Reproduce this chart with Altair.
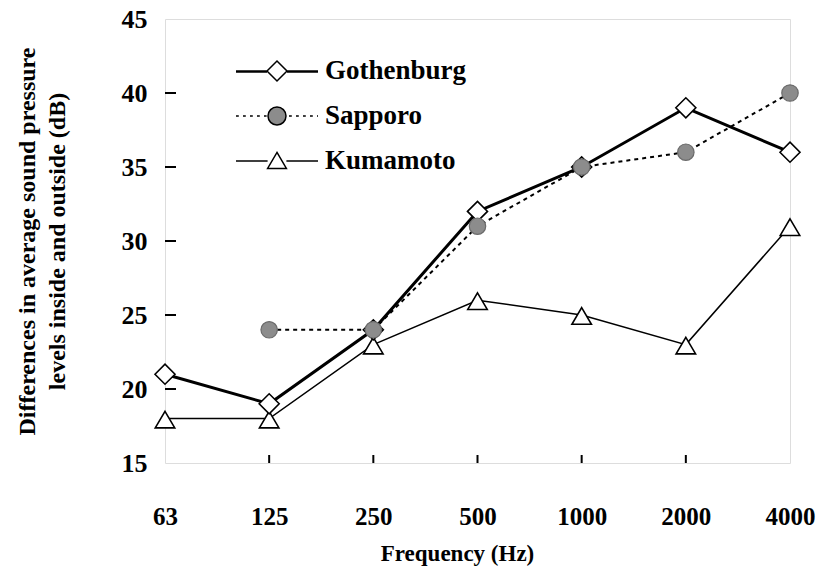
import altair as alt
import pandas as pd

# ---- data ----
freqs = ["63", "125", "250", "500", "1000", "2000", "4000"]
gothenburg = [21, 19, 24, 32, 35, 39, 36]
sapporo = [None, 24, 24, 31, 35, 36, 40]
kumamoto = [18, 18, 23, 26, 25, 23, 31]
series_names = ["Gothenburg", "Sapporo", "Kumamoto"]
y_tick_values = [15, 20, 25, 30, 35, 40, 45]
y_inner_ticks = [20, 25, 30, 35, 40]
x_inner_ticks = ["125", "250", "500", "1000", "2000"]

rows = []
for name, vals in zip(series_names, [gothenburg, sapporo, kumamoto]):
    for f, v in zip(freqs, vals):
        if v is not None:
            rows.append({"f": f, "v": v, "series": name})
df = pd.DataFrame(rows)
ytick_df = pd.DataFrame({"v": y_inner_ticks})
xtick_df = pd.DataFrame({"f": x_inner_ticks})

W, H = 625, 444
FONT = "Liberation Serif"

x_scale = alt.Scale(domain=freqs, type="point", padding=0)
y_scale = alt.Scale(domain=[15, 45], nice=False, zero=False)

x_enc = alt.X(
    "f:N", scale=x_scale, sort=freqs,
    axis=alt.Axis(
        title="Frequency (Hz)", labelAngle=0, labelFont=FONT, labelFontSize=25,
        labelFontWeight="bold", labelColor="black", labelPadding=41,
        labelBaseline="top", domain=False, ticks=False, tickSize=0, grid=False,
        titleFont=FONT, titleFontSize=23, titleFontWeight="bold", titleColor="black",
        titleX=292, titleY=90, titleAlign="center", titleBaseline="middle",
    ),
)
y_enc = alt.Y(
    "v:Q", scale=y_scale,
    axis=alt.Axis(
        title=["Differences in average sound pressure", "levels inside and outside (dB)"],
        values=y_tick_values, labelFont=FONT, labelFontSize=26, labelFontWeight="bold",
        labelColor="black", labelPadding=18, domain=False, ticks=False, tickSize=0,
        grid=False, titleFont=FONT, titleFontSize=24, titleFontWeight="bold",
        titleColor="black", titleAngle=-90, titleX=-150, titleY=H / 2,
        titleAlign="center", titleBaseline="top", titleLineHeight=30,
    ),
)

def series(name):
    return alt.Chart(df).transform_filter(alt.datum.series == name)

line_k = series("Kumamoto").mark_line(color="black", strokeWidth=1.5).encode(x=x_enc, y=y_enc)
line_s = series("Sapporo").mark_line(color="black", strokeWidth=2, strokeDash=[4, 4]).encode(x=x_enc, y=y_enc)
line_g = series("Gothenburg").mark_line(color="black", strokeWidth=3).encode(x=x_enc, y=y_enc)

tri_path = "M0,-0.75L1,0.95L-1,0.95Z"
pts_k = series("Kumamoto").mark_point(
    shape=tri_path, size=380, filled=True, fill="white", stroke="black", strokeWidth=1.6, opacity=1
).encode(x=x_enc, y=y_enc)
pts_g = series("Gothenburg").mark_point(
    shape="diamond", size=400, filled=True, fill="white", stroke="black", strokeWidth=1.6, opacity=1
).encode(x=x_enc, y=y_enc)
pts_s = series("Sapporo").mark_point(
    shape="circle", size=270, filled=True, fill="#8c8c8c", stroke="#6a6a6a", strokeWidth=1.2, opacity=1
).encode(x=x_enc, y=y_enc)

# inward ticks
yticks = alt.Chart(ytick_df).mark_rule(color="black", strokeWidth=2).encode(
    y=y_enc, x=alt.value(0), x2=alt.value(11)
)
xticks = alt.Chart(xtick_df).mark_rule(color="black", strokeWidth=2).encode(
    x=x_enc, y=alt.value(H), y2=alt.value(H - 8)
)

# legend symbols: line + marker paths (unit = 20 px, symbol size 1600)
def seg(a, b, y=0.0):
    return f"M{a:.3f},{y:.3f}L{b:.3f},{y:.3f}"

L = 2.05
d = 0.5
g_sym = seg(-L, -d) + seg(d, L) + seg(-L, -d, 0.045) + seg(d, L, 0.045) + \
    f"M{-d},0L0,{-d}L{d},0L0,{d}Z"
dash_parts = []
pos = -L
while pos < -0.52:
    dash_parts.append(seg(pos, min(pos + 0.14, -0.52)))
    pos += 0.35
pos = 0.6
while pos < L:
    dash_parts.append(seg(pos, min(pos + 0.14, L)))
    pos += 0.35
r = 0.45
s_sym = "".join(dash_parts) + f"M{r},0A{r},{r} 0 1,1 {-r},0A{r},{r} 0 1,1 {r},0Z"
t = 0.47
k_sym = seg(-L, -t) + seg(t, L) + f"M0,-0.43L{t},0.37L{-t},0.37Z"

leg = alt.Legend(
    title=None, orient="none", legendX=91, legendY=31,
    symbolSize=1600, symbolStrokeColor="black", symbolStrokeWidth=1.5,
    labelFont=FONT, labelFontSize=27, labelFontWeight="bold",
    labelColor="black", labelOffset=27, rowPadding=11, padding=0,
    labelLimit=300,
)

legend_layer = alt.Chart(df).transform_filter("false").mark_point(
    filled=True, strokeWidth=1.5, opacity=1
).encode(
    x=x_enc, y=y_enc,
    shape=alt.Shape("series:N", scale=alt.Scale(domain=series_names, range=[g_sym, s_sym, k_sym]),
                    legend=leg),
    fill=alt.Fill("series:N", scale=alt.Scale(domain=series_names, range=["white", "#8c8c8c", "white"]),
                  legend=leg),
    stroke=alt.Stroke("series:N", scale=alt.Scale(domain=series_names, range=["black", "black", "black"]),
                      legend=leg),
)

chart = alt.layer(
    line_k, line_s, line_g, pts_k, pts_g, pts_s, yticks, xticks, legend_layer
).properties(
    width=W, height=H,
    autosize=alt.AutoSizeParams(type="none"),
    padding={"left": 165, "top": 19, "right": 29, "bottom": 108},
).configure_view(
    stroke="black", strokeWidth=3
).configure(background="white")

chart.save("out.html", embed_options={"renderer": "svg", "actions": False})
